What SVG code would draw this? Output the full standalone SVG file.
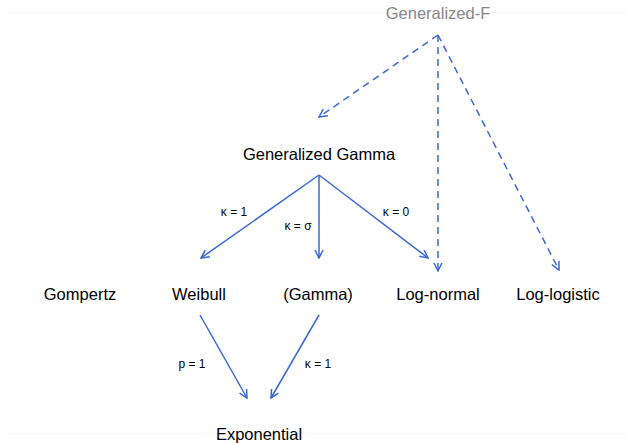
<svg xmlns="http://www.w3.org/2000/svg" width="627" height="443" viewBox="0 0 627 443">
<style>
text{font-family:"Liberation Sans",Arial,sans-serif;fill:#000}
.n{font-size:16.5px;text-anchor:middle}
.l{font-size:12px;text-anchor:middle}
.e{stroke:#3a68d4;stroke-width:1.5;fill:none;marker-end:url(#a)}
.d{stroke-dasharray:7,5}
</style>
<defs>
<marker id="a" viewBox="0 0 10 10" refX="9" refY="5" markerWidth="10" markerHeight="10" markerUnits="userSpaceOnUse" orient="auto">
<path d="M1,1 L9,5 L1,9" fill="none" stroke="#3a68d4" stroke-width="1.5"/>
</marker>
</defs>
<rect width="627" height="443" fill="#fff"/>
<line x1="8" y1="12.5" x2="627" y2="12.5" stroke="#f6f6f6"/>
<line x1="8" y1="433.5" x2="627" y2="433.5" stroke="#f6f6f6"/>
<g id="edges">
<line class="e d" x1="438" y1="35" x2="319" y2="117"/>
<line class="e d" x1="438" y1="35" x2="438" y2="271"/>
<line class="e d" x1="438" y1="35" x2="559" y2="270"/>
<line class="e" x1="319" y1="175" x2="201" y2="258"/>
<line class="e" x1="319" y1="175" x2="319" y2="258"/>
<line class="e" x1="319" y1="175" x2="428" y2="258"/>
<line class="e" x1="200" y1="315" x2="247" y2="398"/>
<line class="e" x1="319" y1="315" x2="271" y2="398"/>
<text class="l" x="234" y="216">κ = 1</text>
<text class="l" x="298" y="230">κ = σ</text>
<text class="l" x="396" y="216">κ = 0</text>
<text class="l" x="192" y="368">p = 1</text>
<text class="l" x="318" y="368">κ = 1</text>
</g>
<g id="genF"><text class="n" x="438" y="19" style="fill:#888">Generalized-F</text></g>
<g id="genGamma"><text class="n" x="319" y="160">Generalized Gamma</text></g>
<g id="gompertz"><text class="n" x="80" y="300">Gompertz</text></g>
<g id="weibull"><text class="n" x="199" y="300">Weibull</text></g>
<g id="gamma"><text class="n" x="318" y="300">(Gamma)</text></g>
<g id="lognormal"><text class="n" x="438" y="300">Log-normal</text></g>
<g id="loglogistic"><text class="n" x="558" y="300">Log-logistic</text></g>
<g id="exponential"><text class="n" x="259" y="440">Exponential</text></g>
</svg>
